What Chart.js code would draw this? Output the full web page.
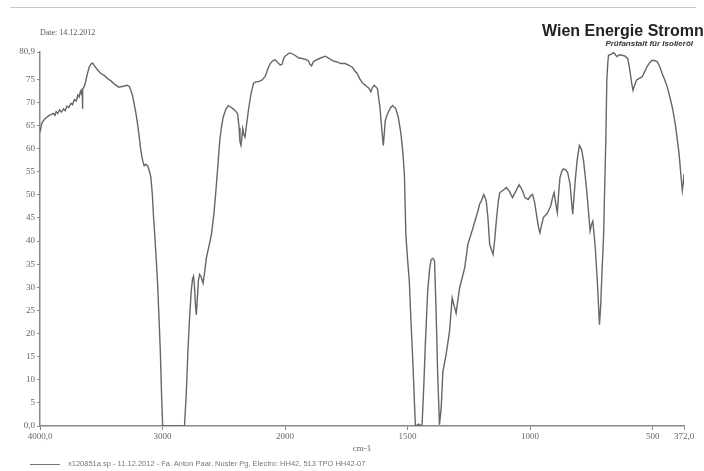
<!DOCTYPE html>
<html>
<head>
<meta charset="utf-8">
<script src="https://cdn.jsdelivr.net/npm/chart.js@4/dist/chart.umd.min.js"></script>
<style>
  html, body { margin: 0; padding: 0; background: #fff; }
  body { width: 704px; height: 471px; position: relative; overflow: hidden; }
  #wrap { position: absolute; left: 0; top: 0; width: 704px; height: 471px; }
  .topline { position: absolute; left: 10px; top: 7px; width: 686px; height: 1px; background: #c8c8c8; }
  .date { position: absolute; left: 40px; top: 28px; font: 8px "Liberation Serif", serif; color: #555; }
  .company { position: absolute; left: 542px; top: 22px; font: bold 16px "Liberation Sans", Arial, sans-serif; color: #222; white-space: nowrap; }
  .lab { position: absolute; right: 11px; top: 39px; font: italic bold 8px "Liberation Sans", Arial, sans-serif; color: #333; white-space: nowrap; }
  .legend { position: absolute; left: 30px; top: 459px; font: 7.5px "Liberation Sans", Arial, sans-serif; color: #777; white-space: nowrap; }
  .legend span { display: inline-block; width: 30px; height: 1px; background: #777; vertical-align: middle; margin-right: 8px; }
</style>
</head>
<body>
<div id="wrap"><canvas id="irChart" width="704" height="471"></canvas></div>
<div class="topline"></div>
<div class="date">Date: 14.12.2012</div>
<div class="company">Wien Energie Stromnetz</div>
<div class="lab">Prüfanstalt für Isolieröl</div>
<div class="legend"><span></span>x120851a.sp - 11.12.2012 - Fa. Anton Paar, Nuster Pg, Electro: HH42, 513 TPO HH42-07</div>
<script>
// IR spectrum, wavenumber (cm-1) vs. transmittance (%T)
const wavenumber = [
  4000, 3985, 3965, 3945, 3925, 3905, 3890, 3878, 3868, 3855, 3840, 3825, 3808, 3795, 3780, 3765,
  3748, 3735, 3720, 3705, 3690, 3680, 3670, 3662, 3656, 3654, 3650, 3640, 3630, 3615, 3600, 3585,
  3570, 3555, 3530, 3505, 3479, 3450, 3424, 3390, 3356, 3320, 3287, 3270, 3259, 3245, 3232, 3218,
  3204, 3190, 3177, 3163, 3150, 3136, 3122, 3108, 3095, 3083, 3073, 3062, 3050, 3040, 3028, 3018,
  3008, 2999, 2900, 2821, 2807, 2793, 2780, 2766, 2755, 2747, 2740, 2732, 2724, 2716, 2707, 2697,
  2685, 2669, 2655, 2642, 2620, 2601, 2580, 2560, 2545, 2533, 2518, 2505, 2485, 2464, 2445, 2423,
  2400, 2387, 2375, 2368, 2360, 2352, 2345, 2336, 2327, 2315, 2299, 2280, 2258, 2235, 2216, 2189,
  2162, 2140, 2121, 2100, 2080, 2060, 2040, 2025, 2010, 2000, 1985, 1978, 1960, 1944, 1930, 1917,
  1905, 1898, 1892, 1884, 1876, 1855, 1835, 1818, 1800, 1785, 1773, 1755, 1739, 1725, 1715, 1705,
  1695, 1684, 1670, 1657, 1650, 1643, 1636, 1623, 1613, 1605, 1599, 1594, 1591, 1582, 1570, 1561,
  1548, 1538, 1527, 1520, 1513, 1507, 1500, 1493, 1486, 1479, 1472, 1468, 1455, 1441, 1434, 1427,
  1418, 1410, 1404, 1397, 1390, 1384, 1377, 1370, 1363, 1356, 1343, 1329, 1318, 1310, 1302, 1288,
  1267, 1254, 1233, 1213, 1206, 1199, 1189, 1179, 1172, 1165, 1157, 1151, 1144, 1138, 1130, 1124,
  1110, 1097, 1085, 1072, 1058, 1045, 1032, 1021, 1008, 998, 990, 982, 974, 966, 960, 953,
  946, 933, 925, 916, 908, 902, 895, 889, 884, 878, 870, 864, 855, 847, 837, 830,
  826, 821, 816, 808, 799, 790, 782, 775, 769, 762, 755, 750, 744, 738, 734, 725,
  717, 712, 707, 700, 696, 691, 687, 683, 680, 670, 659, 652, 646, 635, 625, 612,
  602, 596, 591, 585, 580, 575, 566, 555, 543, 533, 523, 512, 502, 490, 481, 470,
  461, 450, 440, 430, 420, 413, 406, 399, 392, 385, 379, 375, 372
];
const transmittance = [
  63.5, 65.5, 66.3, 66.8, 67.2, 67.4, 67.6, 67.2, 68.0, 67.6, 68.4, 67.9, 68.6, 68.2, 69.2, 68.9,
  69.8, 69.5, 70.6, 70.3, 71.6, 71.2, 72.4, 71.9, 73.0, 68.6, 72.8, 73.4, 74.2, 76.0, 77.5, 78.3,
  78.5, 77.9, 77.0, 76.3, 75.9, 75.2, 74.7, 73.9, 73.3, 73.5, 73.7, 73.4, 72.6, 71.5, 69.7, 67.8,
  65.4, 62.5, 59.6, 57.5, 56.3, 56.6, 56.3, 55.2, 53.8, 50.0, 45.1, 40.7, 35.5, 30.6, 23.0, 16.1,
  7.0, 0, 0, 0, 6.5, 16.1, 23.0, 29.1, 31.8, 32.4, 30.5, 26.5, 24.1, 27.5, 31.5, 32.8,
  32.3, 30.9, 33.5, 36.4, 39.0, 41.4, 46.0, 52.3, 57.5, 61.7, 64.8, 66.8, 68.4, 69.3, 69.0, 68.6,
  68.0, 67.5, 64.5, 61.5, 60.7, 62.5, 64.3, 63.0, 62.5, 65.0, 68.3, 71.5, 74.1, 74.5, 74.5, 74.8,
  75.6, 77.3, 78.4, 79.0, 79.2, 78.6, 78.1, 78.2, 79.6, 80.0, 80.6, 80.7, 80.2, 79.6, 79.5, 79.3,
  79.0, 78.2, 77.9, 78.8, 79.1, 79.6, 80.0, 79.4, 78.9, 78.7, 78.4, 78.4, 78.0, 77.6, 76.8, 76.2,
  75.1, 74.2, 73.6, 73.0, 72.3, 73.2, 73.7, 73.0, 69.0, 64.0, 60.7, 64.0, 66.1, 67.5, 68.8, 69.3,
  68.6, 66.8, 63.2, 59.5, 54.5, 41.4, 36.0, 31.3, 22.5, 14.6, 5.0, 0, 0.4, 0, 8.5, 18.3,
  29.1, 34.0, 36.0, 36.3, 35.7, 25.5, 11.0, 0.3, 3.8, 11.7, 15.4, 20.4, 27.7, 26.0, 24.4, 29.8,
  34.2, 39.3, 42.9, 46.5, 48.0, 48.7, 50.1, 48.7, 45.0, 39.3, 38.0, 37.1, 40.5, 44.3, 48.5, 50.5,
  51.0, 51.6, 50.8, 49.4, 50.8, 52.2, 51.0, 49.4, 49.0, 49.8, 50.1, 48.5, 45.8, 43.0, 41.8, 43.5,
  45.1, 45.8, 46.5, 47.6, 49.5, 50.5, 48.0, 46.2, 50.0, 53.8, 55.2, 55.6, 55.4, 54.9, 52.3, 48.0,
  45.8, 49.5, 53.0, 57.5, 60.7, 59.8, 57.4, 54.0, 50.9, 46.5, 42.2, 43.5, 44.3, 41.0, 38.5, 30.6,
  21.9, 26.0, 32.8, 41.4, 50.9, 61.7, 74.8, 78.5, 80.2, 80.4, 80.8, 80.3, 79.9, 80.3, 80.2, 80.0,
  79.5, 78.0, 76.2, 74.0, 72.6, 73.5, 74.8, 75.2, 75.5, 76.6, 77.7, 78.6, 79.1, 79.0, 78.8, 77.6,
  76.2, 74.8, 73.3, 71.2, 69.0, 67.0, 64.7, 61.8, 58.8, 54.5, 50.9, 52.5, 54.5
];

const xTicks = [4000, 3000, 2000, 1500, 1000, 500, 372];
const xTickLabels = ['4000,0', '3000', '2000', '1500', '1000', '500', '372,0'];
const yTicks = [0, 5, 10, 15, 20, 25, 30, 35, 40, 45, 50, 55, 60, 65, 70, 75, 80.9];
const yTickLabels = ['0,0', '5', '10', '15', '20', '25', '30', '35', '40', '45', '50', '55', '60', '65', '70', '75', '80,9'];

// the spectrometer doubles the scale below 2000 cm-1
const BREAK_AT = 2000;
const STRETCH = 2;

// x axis drawn high -> low, with a scale change at BREAK_AT
class IrScale extends Chart.LinearScale {
  static id = 'irscale';
  static defaults = Chart.LinearScale.defaults;

  _units(w) {
    if (w >= BREAK_AT) return (this.max - w);
    return (this.max - BREAK_AT) + (BREAK_AT - w) * STRETCH;
  }
  getPixelForValue(w) {
    if (w === null || w === undefined) return NaN;
    return this.getPixelForDecimal(this._units(w) / this._units(this.min));
  }
  getValueForPixel(px) {
    const u = this.getDecimalForPixel(px) * this._units(this.min);
    const top = this.max - BREAK_AT;
    return u <= top ? this.max - u : BREAK_AT - (u - top) / STRETCH;
  }
}
Chart.register(IrScale);

const points = wavenumber.map((w, i) => ({ x: w, y: transmittance[i] }));
const tickFont = { family: '"Liberation Serif", serif', size: 9 };

new Chart(document.getElementById('irChart'), {
  type: 'line',
  data: {
    datasets: [{
      label: 'x120851a.sp',
      data: points,
      borderColor: '#666',
      borderWidth: 1.4,
      pointRadius: 0,
      tension: 0,
      fill: false
    }]
  },
  options: {
    responsive: false,
    animation: false,
    events: [],
    layout: { padding: { left: 0, right: 20, top: 52, bottom: 0 } },
    plugins: { legend: { display: false }, tooltip: { enabled: false } },
    scales: {
      x: {
        type: 'irscale',
        min: 372,
        max: 4000,
        grid: { drawOnChartArea: false, color: '#888', tickLength: 4 },
        border: { color: '#888', width: 1.5 },
        afterBuildTicks: (axis) => { axis.ticks = xTicks.map(v => ({ value: v })); },
        afterFit: (axis) => { axis.height = 45; },
        ticks: {
          autoSkip: false,
          maxRotation: 0,
          padding: 1,
          color: '#666',
          font: tickFont,
          callback: (v) => xTickLabels[xTicks.indexOf(v)]
        },
        title: {
          display: true,
          text: 'cm-1',
          color: '#666',
          font: tickFont,
          padding: { top: 0, bottom: 17 }
        }
      },
      y: {
        min: 0,
        max: 80.9,
        grid: { drawOnChartArea: false, color: '#888', tickLength: 3 },
        border: { color: '#888', width: 1.5 },
        afterBuildTicks: (axis) => { axis.ticks = yTicks.map(v => ({ value: v })); },
        afterFit: (axis) => { axis.width = 40; },
        ticks: {
          autoSkip: false,
          padding: 2,
          color: '#666',
          font: tickFont,
          callback: (v) => yTickLabels[yTicks.indexOf(v)]
        }
      }
    }
  }
});
</script>
</body>
</html>
